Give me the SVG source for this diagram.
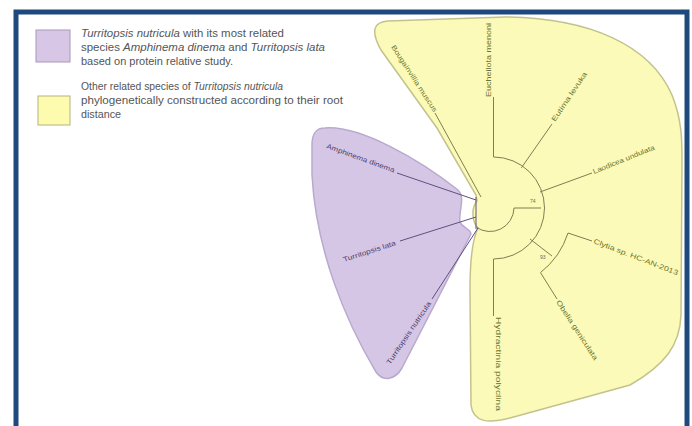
<svg xmlns="http://www.w3.org/2000/svg" width="692" height="426" viewBox="0 0 692 426">
<style>
.leg{font-family:"Liberation Sans",Arial,sans-serif;font-size:10px;fill:#555}
.lab{font-family:"Liberation Sans",Arial,sans-serif;font-size:7px}
.ylab{fill:#6a7530}
.plab{fill:#4c3f6c}
.yl{stroke:#7f7e52;stroke-width:1;fill:none}
.pl{stroke:#5e5080;stroke-width:1;fill:none}
.num{font-family:"Liberation Sans",Arial,sans-serif;font-size:5px;fill:#6a6a4a}
</style>
<rect x="0" y="0" width="692" height="426" fill="#ffffff"/>
<rect x="16" y="12" width="671" height="430" fill="#ffffff" stroke="#1f497d" stroke-width="5"/>

<g id="legend">
  <g id="legend-purple">
    <rect x="36" y="30" width="34" height="32" fill="#d8c6e6" stroke="#a898b6" stroke-width="1"/>
    <text class="leg" x="81" y="37" textLength="203" lengthAdjust="spacingAndGlyphs"><tspan font-style="italic">Turritopsis nutricula</tspan> with its most related</text>
    <text class="leg" x="81" y="51" textLength="244" lengthAdjust="spacingAndGlyphs">species <tspan font-style="italic">Amphinema dinema</tspan> and <tspan font-style="italic">Turritopsis lata</tspan></text>
    <text class="leg" x="81" y="65" textLength="152" lengthAdjust="spacingAndGlyphs">based on protein relative study.</text>
  </g>
  <g id="legend-yellow">
    <rect x="38" y="96" width="32" height="29" fill="#fdfbae" stroke="#b5b37f" stroke-width="1"/>
    <text class="leg" x="81" y="90" textLength="202" lengthAdjust="spacingAndGlyphs">Other related species of <tspan font-style="italic">Turritopsis nutricula</tspan></text>
    <text class="leg" x="81" y="104" textLength="262" lengthAdjust="spacingAndGlyphs">phylogenetically constructed according to their root</text>
    <text class="leg" x="81" y="118" textLength="40" lengthAdjust="spacingAndGlyphs">distance</text>
  </g>
</g>

<g id="clade-yellow">
  <path d="M 388,21 L 505,17 C 590,18 650,45 672,95 C 682,120 682,140 682,160 L 681,315 C 680,345 665,365 630,385 L 510,418 C 488,424 473,422 471,405 L 470,290 C 470,260 472,240 478,228 C 472,222 471,208 477,201 L 476,195 L 437,128 L 381,50 C 370,30 374,22 388,21 Z" fill="#fcfab8" stroke="#c4c28c" stroke-width="1.5"/>
</g>
<g id="clade-purple">
  <path d="M 325,128 C 360,125 420,160 458,190 C 466,198 458,212 460,222 C 462,228 470,228 471,234 L 402,368 C 395,380 383,382 376,372 C 345,320 316,250 312,175 L 312,145 C 312,133 316,128 325,128 Z" fill="#d6c6e6" stroke="#b9a9cd" stroke-width="1.5"/>
</g>

<g id="connectors">
  <line class="pl" x1="476" y1="197" x2="476" y2="229"/>
  <path class="yl" d="M 476,227 A 24 24 0 0 0 514,208"/>
  <line class="yl" x1="514" y1="208" x2="541" y2="208"/>
  <path class="yl" d="M 493.5,157 A 51 51 0 0 1 493.5,259"/>
  <line class="yl" x1="530" y1="239" x2="552" y2="256"/>
  <path class="yl" d="M 568,233 A 82 82 0 0 1 540.5,272.6"/>
  <line class="yl" x1="481" y1="197" x2="435" y2="113"/>
  <line class="yl" x1="493.5" y1="157" x2="493.5" y2="97"/>
  <line class="yl" x1="521.4" y1="167.8" x2="552" y2="124"/>
  <line class="yl" x1="540" y1="192" x2="592" y2="173"/>
  <line class="yl" x1="568" y1="233" x2="592" y2="241"/>
  <line class="yl" x1="540.5" y1="272.6" x2="557" y2="299"/>
  <line class="yl" x1="493.5" y1="259" x2="493.5" y2="316"/>
  <line class="pl" x1="476" y1="200" x2="397" y2="173"/>
  <line class="pl" x1="476" y1="217" x2="400" y2="241"/>
  <line class="pl" x1="478" y1="228" x2="432" y2="299"/>
  <text class="num" x="530" y="203">74</text>
  <text class="num" x="540" y="259">93</text>
</g>

<g id="leaf-bougainvillia"><text class="lab ylab" transform="translate(391,47) rotate(57)" textLength="78" lengthAdjust="spacingAndGlyphs">Bougainvillia muscus</text></g>
<g id="leaf-eucheilota"><text class="lab ylab" transform="translate(491,97) rotate(-90)" textLength="74" lengthAdjust="spacingAndGlyphs">Eucheilota menoni</text></g>
<g id="leaf-eutima"><text class="lab ylab" transform="translate(555,122) rotate(-56)" textLength="58" lengthAdjust="spacingAndGlyphs">Eutima levuka</text></g>
<g id="leaf-laodicea"><text class="lab ylab" transform="translate(594,174) rotate(-22)" textLength="66" lengthAdjust="spacingAndGlyphs">Laodicea undulata</text></g>
<g id="leaf-clytia"><text class="lab ylab" transform="translate(593,243) rotate(21)" textLength="90" lengthAdjust="spacingAndGlyphs">Clytia sp. HC-AN-2013</text></g>
<g id="leaf-obelia"><text class="lab ylab" transform="translate(556,302) rotate(57)" textLength="70" lengthAdjust="spacingAndGlyphs">Obelia geniculata</text></g>
<g id="leaf-bottom"><text class="lab ylab" transform="translate(496,317) rotate(90)" textLength="94" lengthAdjust="spacingAndGlyphs">Hydractinia polyclina</text></g>
<g id="leaf-amphinema"><text class="lab plab" transform="translate(326,148) rotate(20)" textLength="72" lengthAdjust="spacingAndGlyphs">Amphinema dinema</text></g>
<g id="leaf-lata"><text class="lab plab" transform="translate(344,262) rotate(-18)" textLength="55" lengthAdjust="spacingAndGlyphs">Turritopsis lata</text></g>
<g id="leaf-nutricula"><text class="lab plab" transform="translate(390,365) rotate(-56)" textLength="74" lengthAdjust="spacingAndGlyphs">Turritopsis nutricula</text></g>
</svg>
